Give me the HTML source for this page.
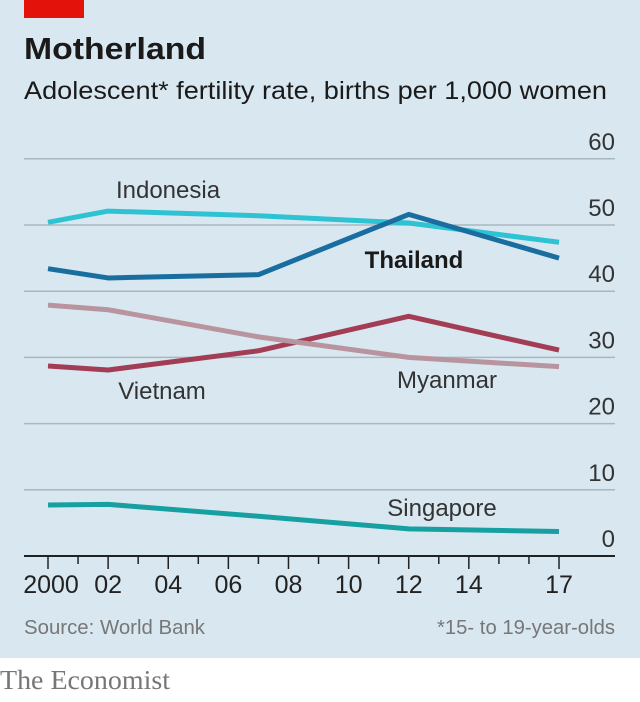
<!DOCTYPE html>
<html><head><meta charset="utf-8"><style>
body{margin:0;width:640px;height:697px;background:#fff;font-family:"Liberation Sans",sans-serif;overflow:hidden}
</style></head><body>
<svg width="640" height="697" id="svg" xmlns="http://www.w3.org/2000/svg">
<rect x="0" y="0" width="640" height="658" fill="#d8e7f0"/>
<rect x="24" y="0" width="60" height="18" fill="#e3120b"/>
<text x="24" y="59" font-size="31" font-weight="bold" fill="#1a1a1a" textLength="182" lengthAdjust="spacingAndGlyphs">Motherland</text>
<text x="24" y="99" font-size="25" fill="#1a1a1a" textLength="583" lengthAdjust="spacingAndGlyphs">Adolescent* fertility rate, births per 1,000 women</text>
<g id="grid"></g><g id="lines"></g><g id="axis"></g>
<text x="168" y="198" font-size="24" fill="#333" text-anchor="middle">Indonesia</text>
<text x="414" y="268" font-size="24" font-weight="bold" fill="#1a1a1a" text-anchor="middle">Thailand</text>
<text x="162" y="399" font-size="24" fill="#333" text-anchor="middle">Vietnam</text>
<text x="447" y="388" font-size="24" fill="#333" text-anchor="middle">Myanmar</text>
<text x="442" y="516" font-size="24" fill="#333" text-anchor="middle">Singapore</text>
<text x="24" y="634" font-size="20" fill="#777" textLength="181" lengthAdjust="spacingAndGlyphs">Source: World Bank</text>
<text x="615" y="634" font-size="20" fill="#777" text-anchor="end" textLength="178" lengthAdjust="spacingAndGlyphs">*15- to 19-year-olds</text>
<text x="0" y="689" font-size="27" fill="#777" font-family="Liberation Serif, serif" textLength="170" lengthAdjust="spacingAndGlyphs">The Economist</text>
</svg>
<script>
const years=[2000,2002,2007,2012,2017];
const indonesia=[50.4,52.1,51.4,50.3,47.4];
const thailand=[43.4,42.0,42.5,51.6,45.0];
const myanmar=[37.9,37.2,33.1,30.0,28.6];
const vietnam=[28.7,28.1,31.0,36.2,31.1];
const singapore=[7.7,7.8,6.0,4.1,3.7];
const yTicks=[0,10,20,30,40,50,60];
const xTickYears=[2000,2002,2004,2006,2008,2010,2012,2014,2017];
const xTickLabels=["2000","02","04","06","08","10","12","14","17"];
const NS="http://www.w3.org/2000/svg";
const xs=y=>48+(y-2000)*30.06;
const ys=v=>556-v*6.62;
function mk(t,a,p){const e=document.createElementNS(NS,t);for(const k in a)e.setAttribute(k,a[k]);document.getElementById(p).appendChild(e);return e;}
yTicks.forEach(v=>{
  if(v>0){const l=mk('line',{x1:24,x2:615,y1:ys(v),y2:ys(v),stroke:'#a9b7c0','stroke-width':1.5},'grid');
  
  }
  const t=mk('text',{x:615,y:ys(v)-9,'font-size':24,fill:'#333','text-anchor':'end'},'grid');
  t.textContent=v;
  
  
});
const series=[["vietnam",vietnam,"#a33c55"],["myanmar",myanmar,"#b8949f"],["singapore",singapore,"#17a0a2"],["indonesia",indonesia,"#2dc3d3"],["thailand",thailand,"#1a6e9f"]];
series.forEach(([n,d,c])=>{
  const p=mk('polyline',{points:years.map((y,i)=>xs(y)+','+ys(d[i])).join(' '),fill:'none',stroke:c,'stroke-width':5,'stroke-linejoin':'round'},'lines');
  
  
});
const ax=mk('line',{x1:24,x2:615,y1:556,y2:556,stroke:'#222','stroke-width':2},'axis');


for(let y=2000;y<=2017;y++){
  const major=xTickYears.includes(y);
  const t=mk('line',{x1:xs(y),x2:xs(y),y1:556,y2:major?569:564,stroke:'#222','stroke-width':1.5},'axis');
  
  
}
xTickYears.forEach((y,i)=>{
  const t=mk('text',{x:xs(y)+(i==0?3:0),y:593,'font-size':25,fill:'#222','text-anchor':'middle'},'axis');
  t.textContent=xTickLabels[i];
  
  
});
</script>
</body></html>
